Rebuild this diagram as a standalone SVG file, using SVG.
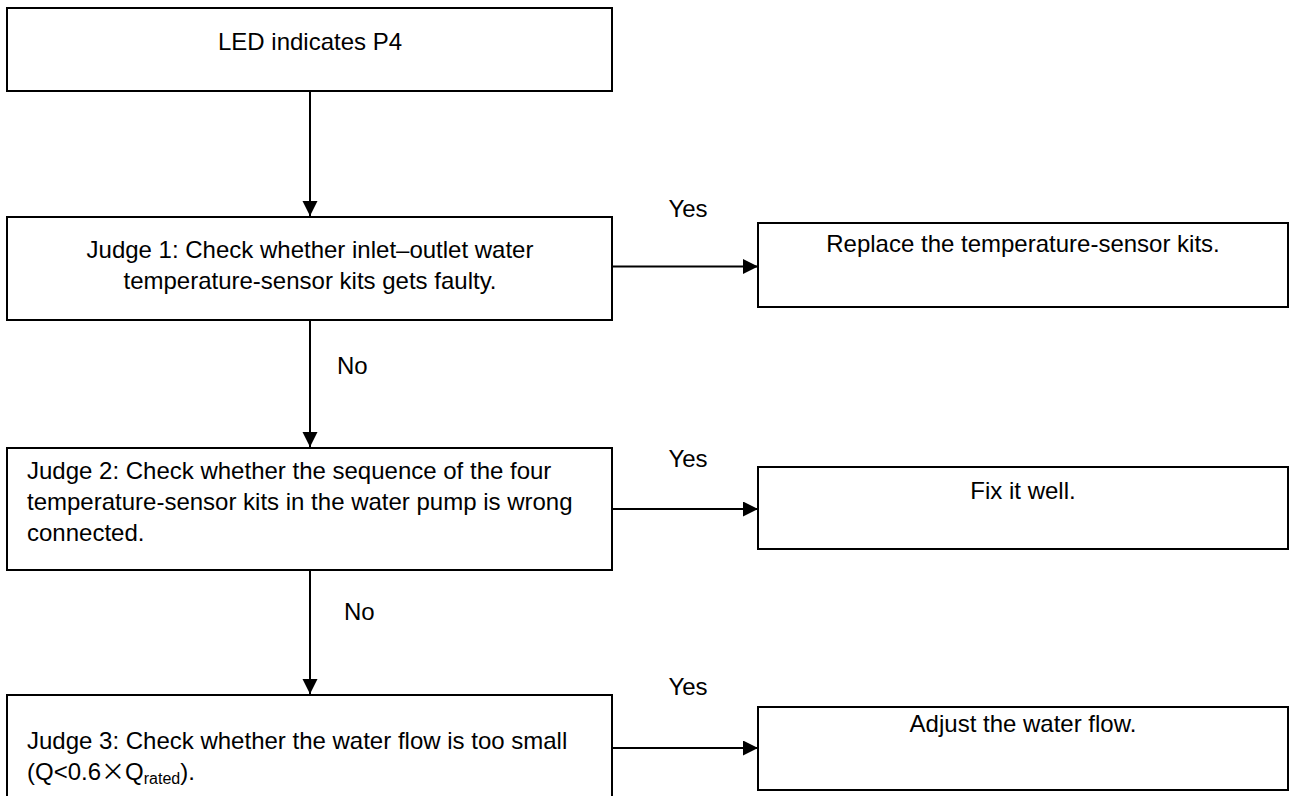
<svg xmlns="http://www.w3.org/2000/svg" width="1297" height="796" viewBox="0 0 1297 796">
  <defs>
    <style>
      .box { fill: #ffffff; stroke: #000000; stroke-width: 2; }
      .txt { font-family: "Liberation Sans", Arial, sans-serif; font-size: 24px; fill: #000000; }
      .mid { text-anchor: middle; }
      .conn { stroke: #000000; stroke-width: 2; fill: none; marker-end: url(#arrow); }
    </style>
    <marker id="arrow" markerUnits="userSpaceOnUse" markerWidth="16" markerHeight="16" refX="15" refY="7.5" orient="auto">
      <path d="M0,0 L15,7.5 L0,15 Z" fill="#000000"/>
    </marker>
  </defs>
  <rect width="1297" height="796" fill="#ffffff"/>

  <!-- connectors -->
  <g id="connectors">
    <line class="conn" x1="310" y1="91" x2="310" y2="216"/>
    <line class="conn" x1="310" y1="320" x2="310" y2="447"/>
    <line class="conn" x1="310" y1="568" x2="310" y2="694"/>
    <line class="conn" x1="612" y1="266.5" x2="758" y2="266.5"/>
    <line class="conn" x1="612" y1="509" x2="758" y2="509"/>
    <line class="conn" x1="612" y1="748" x2="758" y2="748"/>
    <text class="txt mid" x="688" y="217">Yes</text>
    <text class="txt mid" x="688" y="467">Yes</text>
    <text class="txt mid" x="688" y="695">Yes</text>
    <text class="txt" x="337" y="374">No</text>
    <text class="txt" x="344" y="620">No</text>
  </g>

  <!-- start -->
  <g id="start">
    <rect class="box" x="7" y="8" width="605" height="83"/>
    <text class="txt mid" x="310" y="50">LED indicates P4</text>
  </g>

  <!-- judge 1 -->
  <g id="judge1">
    <rect class="box" x="7" y="217" width="605" height="103"/>
    <text class="txt mid" x="310" y="258">Judge 1: Check whether inlet–outlet water</text>
    <text class="txt mid" x="310" y="289">temperature-sensor kits gets faulty.</text>
  </g>

  <g id="replace">
    <rect class="box" x="758" y="223" width="530" height="84"/>
    <text class="txt mid" x="1023" y="252">Replace the temperature-sensor kits.</text>
  </g>

  <!-- judge 2 -->
  <g id="judge2">
    <rect class="box" x="7" y="448" width="605" height="122"/>
    <text class="txt" x="27" y="479">Judge 2: Check whether the sequence of the four</text>
    <text class="txt" x="27" y="510">temperature-sensor kits in the water pump is wrong</text>
    <text class="txt" x="27" y="541">connected.</text>
  </g>

  <g id="fix">
    <rect class="box" x="758" y="467" width="530" height="82"/>
    <text class="txt mid" x="1023" y="499">Fix it well.</text>
  </g>

  <!-- judge 3 -->
  <g id="judge3">
    <rect class="box" x="7" y="695" width="605" height="120"/>
    <text class="txt" x="27" y="749">Judge 3: Check whether the water flow is too small</text>
    <text class="txt" x="27" y="780">(Q&lt;0.6<tspan font-family="'Noto Sans CJK SC', sans-serif">×</tspan>Q<tspan font-size="16" dy="4">rated</tspan><tspan dy="-4">).</tspan></text>
  </g>

  <g id="adjust">
    <rect class="box" x="758" y="707" width="530" height="83"/>
    <text class="txt mid" x="1023" y="732">Adjust the water flow.</text>
  </g>
</svg>
